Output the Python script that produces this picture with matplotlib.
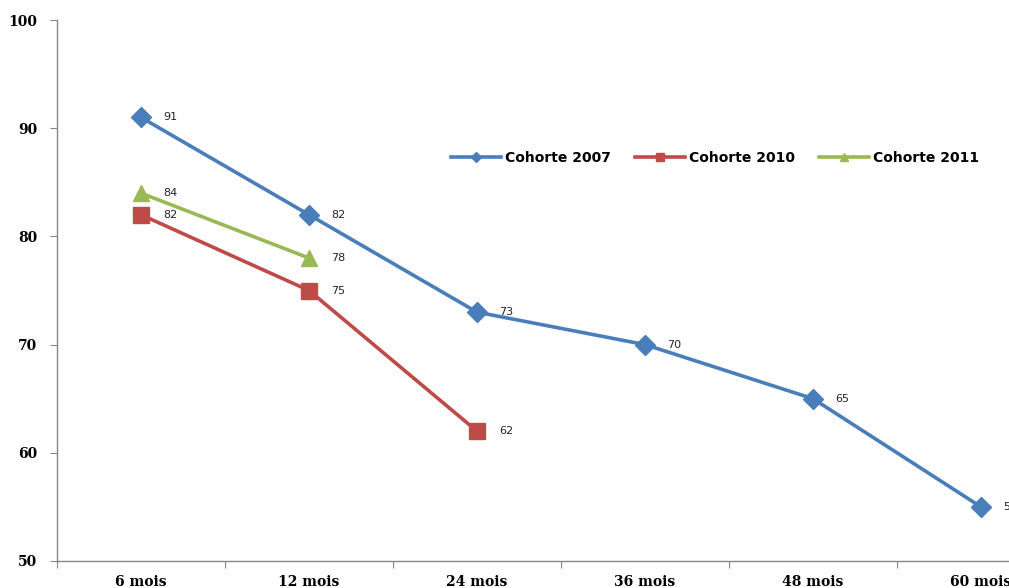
import matplotlib
matplotlib.use("Agg")
import matplotlib.pyplot as plt
import numpy as np

categories = ["6 mois", "12 mois", "24 mois", "36 mois", "48 mois", "60 mois"]
cohorte_2007 = [91, 82, 73, 70, 65, 55]
cohorte_2010 = [82, 75, 62]
cohorte_2011 = [84, 78]
y_ticks = [50, 60, 70, 80, 90, 100]

series = [
    ("Cohorte 2007", cohorte_2007, "#4A7EBB", "D", 10.5),
    ("Cohorte 2010", cohorte_2010, "#BE4B48", "s", 12),
    ("Cohorte 2011", cohorte_2011, "#98B954", "^", 11.5),
]

tick_font = {"family": "DejaVu Serif", "weight": "bold", "size": 10}

fig = plt.figure(figsize=(10.09, 5.88), dpi=100)
ax = fig.add_axes([57 / 1009, 27 / 588, 1008 / 1009, 541 / 588])

x = np.arange(len(categories)) + 0.5
for name, vals, color, marker, ms in series:
    xs = x[:len(vals)]
    ax.plot(xs, vals, color=color, lw=2.6, marker=marker, ms=ms,
            markeredgecolor=color, label=name, clip_on=False, zorder=3)
    for xi, v in zip(xs, vals):
        ax.annotate(str(v), (xi, v), xytext=(16, 0), textcoords="offset points",
                    va="center", ha="left", fontsize=8, color="#222222",
                    annotation_clip=False)

ax.set_xlim(0, len(categories))
ax.set_ylim(50, 100)
ax.set_yticks(y_ticks)
ax.set_yticklabels([str(t) for t in y_ticks], fontdict=tick_font)
ax.set_xticks(np.arange(len(categories) + 1))
ax.set_xticklabels([])
ax.set_xticks(x, minor=True)
ax.set_xticklabels(categories, minor=True, fontdict=tick_font)
ax.tick_params(axis="x", which="minor", length=0, pad=10)
ax.tick_params(axis="x", which="major", length=5, color="#868686", direction="out")
ax.tick_params(axis="y", length=5, color="#868686", direction="out", pad=9)

for s in ["top", "right"]:
    ax.spines[s].set_visible(False)
for s in ["left", "bottom"]:
    ax.spines[s].set_color("#868686")
    ax.spines[s].set_linewidth(1.0)

ax.legend(loc="center", bbox_to_anchor=(715 / 1009, 1 - 158 / 588),
          bbox_transform=fig.transFigure, ncol=3, frameon=False, markerscale=0.45,
          handlelength=3.6, handletextpad=0.3, columnspacing=1.7,
          prop={"size": 10, "weight": "bold"})

fig.savefig("out.png", dpi=100)
